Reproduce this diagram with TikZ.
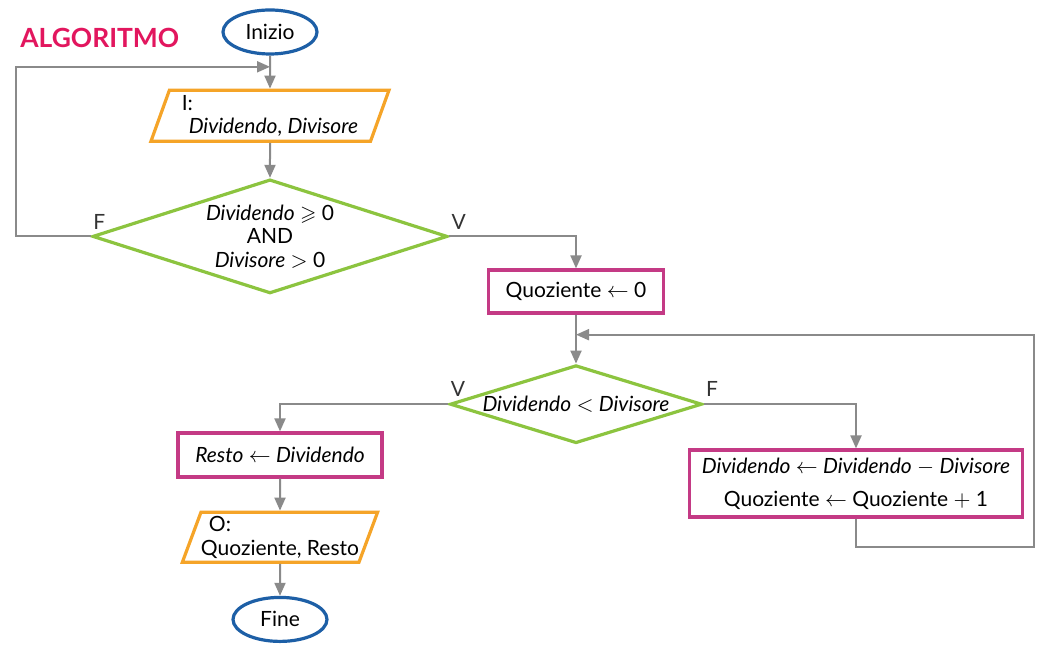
\documentclass[tikz,border=0pt]{standalone}
\usepackage{amsmath,amssymb}
\usepackage{fontspec}
\setmainfont{Lato}
\usepackage{tikz}
\usetikzlibrary{arrows.meta,positioning,shapes.geometric,calc}
\definecolor{cTitle}{HTML}{E2165E}
\definecolor{cTerm}{HTML}{1D5FA6}
\definecolor{cIO}{HTML}{F5A428}
\definecolor{cTest}{HTML}{8CC43F}
\definecolor{cProc}{HTML}{C43A85}
\definecolor{cFlow}{HTML}{8A8A8A}
\newcommand{\var}[1]{\textit{#1}}

\begin{document}
\begin{tikzpicture}[
    x=0.5pt, y=-0.5pt,
    font=\fontsize{10.5}{11.75}\selectfont,
    >={Triangle[length=6.5pt,width=5.5pt]},
    term/.style={ellipse, draw=cTerm, line width=1.6pt, fill=white,
                 minimum width=47pt, minimum height=22pt, inner sep=0pt},
    io/.style={trapezium, trapezium left angle=66, trapezium right angle=114,
               trapezium stretches body, draw=cIO, line width=1.6pt,
               fill=white, align=left, inner sep=0pt},
    test/.style={diamond, aspect=3.1, draw=cTest, line width=1.6pt,
                 fill=white, align=center, inner sep=-2pt},
    proc/.style={rectangle, draw=cProc, line width=1.6pt, fill=white,
                 align=center, inner sep=0pt},
    flow/.style={->, draw=cFlow, line width=1pt},
    lbl/.style={text=black!80, inner sep=1pt, yshift=2.5pt},
    title/.style={font=\fontsize{13.2}{15}\selectfont\bfseries, text=cTitle}
]
\useasboundingbox[fill=white] (0,0) rectangle (1043,651);

% --- title ---
\node[title, anchor=west, inner sep=0pt] (algo) at (20,38) {ALGORITMO};

% --- input and first test ---
\node[term] (start) at (270,32) {Inizio};
\node[io, below=16.5pt of start, minimum width=119pt, minimum height=25.5pt] (inp)
  {I:\\\hspace{3.5pt}\var{Dividendo}, \var{Divisore}};
\node[test, below=17.5pt of inp, minimum width=177.5pt, minimum height=57pt] (cond1)
  {\var{Dividendo} $\geqslant$ 0\\ AND\\ \var{Divisore} $>$ 0};

% --- loop ---
\node[proc, minimum width=87.5pt, minimum height=21.5pt] (init) at (576,291.5)
  {Quoziente $\leftarrow$ 0};
\node[test, below=24.5pt of init, minimum width=126pt, minimum height=39pt] (cond2)
  {\var{Dividendo} $<$ \var{Divisore}};
\node[proc, minimum width=166.5pt, minimum height=33.5pt] (upd) at (856,483.5)
  {\var{Dividendo} $\leftarrow$ \var{Dividendo} $-$ \var{Divisore}\\[4.75pt]
   Quoziente $\leftarrow$ Quoziente $+$ 1};

% --- output ---
\node[proc, minimum width=102pt, minimum height=22pt] (resto) at (280,455)
  {\var{Resto} $\leftarrow$ \var{Dividendo}};
\node[io, below=16pt of resto, minimum width=95.5pt, minimum height=25pt] (out)
  {\hspace{4pt}O:\\ Quoziente, Resto};
\node[term, below=16pt of out] (stop) {Fine};

% --- joins ---
\coordinate (j1) at ($(start.south)!0.34!(inp.north)$);
\coordinate (j2) at ($(init.south)!0.41!(cond2.north)$);

% --- arrows ---
\draw[flow] (start) -- (inp);
\draw[flow] (inp) -- (cond1);
\draw[flow] (cond1.west) -- ++(-75,0) |- (j1);
\draw[flow] (cond1.east) -| (init);
\draw[flow] (init) -- (cond2);
\draw[flow] (cond2.west) -| (resto);
\draw[flow] (cond2.east) -| (upd);
\draw[flow] (upd.south) -- ++(0,28) -| ($(upd.east |- j2)+(10,0)$) -- (j2);
\draw[flow] (resto) -- (out);
\draw[flow] (out) -- (stop);

% branch labels
\node[lbl, anchor=south west] at (cond1.west) {F};
\node[lbl, anchor=south west] at (cond1.east) {V};
\node[lbl, anchor=south west] at (cond2.west) {V};
\node[lbl, anchor=south west] at (cond2.east) {F};

\end{tikzpicture}
\end{document}
